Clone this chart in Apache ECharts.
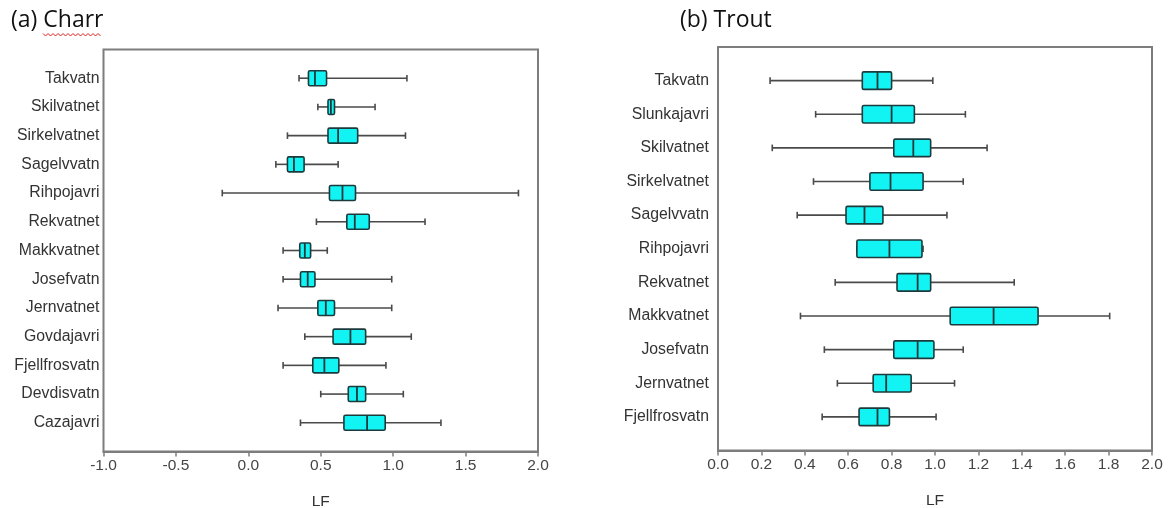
<!DOCTYPE html>
<html>
<head>
<meta charset="utf-8">
<script src="https://cdn.jsdelivr.net/npm/echarts@6/dist/echarts.min.js"></script>
<style>
html,body{margin:0;padding:0;background:#fff;}
#chart{width:1169px;height:508px;}
</style>
</head>
<body>
<div id="chart"></div>
<script>
// ---- Data ----
var charrLakes = ['Takvatn','Skilvatnet','Sirkelvatnet','Sagelvvatn','Rihpojavri','Rekvatnet','Makkvatnet','Josefvatn','Jernvatnet','Govdajavri','Fjellfrosvatn','Devdisvatn','Cazajavri'];
var charrLow  = [0.35, 0.48, 0.27, 0.19, -0.18, 0.47, 0.24, 0.24, 0.205, 0.39, 0.24, 0.50, 0.36];
var charrQ1   = [0.415,0.55, 0.55, 0.27, 0.56,  0.68, 0.355,0.36, 0.48,  0.585,0.445,0.69, 0.66];
var charrMed  = [0.46, 0.57, 0.62, 0.315,0.65,  0.735,0.39, 0.41, 0.535, 0.705,0.525,0.75, 0.82];
var charrQ3   = [0.54, 0.595,0.755,0.385,0.74,  0.835,0.43, 0.46, 0.595, 0.81, 0.625,0.81, 0.945];
var charrHigh = [1.095,0.875,1.085,0.62, 1.865, 1.22, 0.545,0.99, 0.99,  1.125,0.95, 1.07, 1.33];

var troutLakes = ['Takvatn','Slunkajavri','Skilvatnet','Sirkelvatnet','Sagelvvatn','Rihpojavri','Rekvatnet','Makkvatnet','Josefvatn','Jernvatnet','Fjellfrosvatn'];
var troutLow  = [0.24, 0.45, 0.25, 0.44, 0.365,0.64, 0.54, 0.38, 0.49, 0.55, 0.48];
var troutQ1   = [0.665,0.665,0.81, 0.70, 0.59, 0.64, 0.825,1.07, 0.81, 0.715,0.65];
var troutMed  = [0.735,0.80, 0.90, 0.795,0.675,0.79, 0.92, 1.27, 0.92, 0.775,0.735];
var troutQ3   = [0.80, 0.905,0.98, 0.945,0.76, 0.94, 0.98, 1.475,0.995,0.89, 0.79];
var troutHigh = [0.99, 1.14, 1.24, 1.13, 1.055,0.945,1.365,1.805,1.13, 1.09, 1.005];

var charrTicks = [-1.0,-0.5,0.0,0.5,1.0,1.5,2.0];
var troutTicks = [0.0,0.2,0.4,0.6,0.8,1.0,1.2,1.4,1.6,1.8,2.0];

// ---- build ----
function rows(names, lo, q1, md, q3, hi){
  return names.map(function(n,i){ return [n, lo[i], q1[i], md[i], q3[i], hi[i]]; });
}
function padCats(names){ return [''].concat(names).concat(['']); }

function makeRender(boxH){
  return function(params, api){
    var c = api.value(0);
    var pLo = api.coord([api.value(1), c]);
    var pQ1 = api.coord([api.value(2), c]);
    var pMd = api.coord([api.value(3), c]);
    var pQ3 = api.coord([api.value(4), c]);
    var pHi = api.coord([api.value(5), c]);
    var y = pMd[1];
    var half = boxH/2, cap = 3.3;
    var wStyle = {stroke:'#4a4a4a', lineWidth:1.6};
    var bStyle = {stroke:'#1c3a3c', lineWidth:1.6, fill:'#12f4f4'};
    return {
      type:'group',
      children:[
        {type:'line', shape:{x1:pLo[0],y1:y,x2:pQ1[0],y2:y}, style:wStyle},
        {type:'line', shape:{x1:pQ3[0],y1:y,x2:pHi[0],y2:y}, style:wStyle},
        {type:'line', shape:{x1:pLo[0],y1:y-cap,x2:pLo[0],y2:y+cap}, style:wStyle},
        {type:'line', shape:{x1:pHi[0],y1:y-cap,x2:pHi[0],y2:y+cap}, style:wStyle},
        {type:'rect', shape:{x:pQ1[0],y:y-half,width:pQ3[0]-pQ1[0],height:boxH,r:1.5}, style:bStyle},
        {type:'line', shape:{x1:pMd[0],y1:y-half,x2:pMd[0],y2:y+half}, style:{stroke:'#1c3a3c', lineWidth:1.8}}
      ]
    };
  };
}

var frameColor = '#7d7d7d';
function xAxisCfg(idx, min, max, interval){
  return {
    type:'value', gridIndex:idx, min:min, max:max, interval:interval,
    name:'LF', nameLocation:'middle', nameGap:42,
    nameTextStyle:{fontFamily:'Liberation Sans', fontSize:15.5, color:'#333'},
    axisLine:{show:true, lineStyle:{color:frameColor, width:2}},
    axisTick:{show:true, inside:false, length:5, lineStyle:{color:frameColor, width:1.5}},
    axisLabel:{fontFamily:'Liberation Sans', fontSize:15.5, color:'#444', margin:6,
      formatter:function(v){ return v.toFixed(1); }},
    splitLine:{show:false}
  };
}
function yAxisCfg(idx, cats, margin){
  return {
    type:'category', gridIndex:idx, data:cats, inverse:true, boundaryGap:false,
    axisLine:{show:false}, axisTick:{show:false}, splitLine:{show:false},
    axisLabel:{interval:0, fontFamily:'Liberation Sans', fontSize:15.8, color:'#333', margin:margin}
  };
}

var chart = echarts.init(document.getElementById('chart'), null, {renderer:'canvas'});
chart.setOption({
  backgroundColor:'#ffffff',
  animation:false,
  title:[
    {text:'(a) Charr', left:6, top:4, textStyle:{fontFamily:'Open Sans', fontSize:23, fontWeight:'normal', color:'#111'}},
    {text:'(b) Trout', left:675, top:4, textStyle:{fontFamily:'Open Sans', fontSize:23, fontWeight:'normal', color:'#111'}}
  ],
  graphic:[
    {type:'polyline', shape:{points:(function(){var p=[];for(var x=43;x<=101;x+=2.5){p.push([x, (Math.round((x-43)/2.5)%2===0)?33.5:36]);}return p;})()},
     style:{stroke:'#e02020', lineWidth:1, fill:null}}
  ],
  grid:[
    {left:103.5, width:434.5, top:49.5, height:402, show:true, borderColor:frameColor, borderWidth:2, backgroundColor:'transparent', containLabel:false, outerBoundsMode:'none'},
    {left:718, width:434, top:47, height:403.5, show:true, borderColor:frameColor, borderWidth:2, backgroundColor:'transparent', containLabel:false, outerBoundsMode:'none'}
  ],
  xAxis:[ xAxisCfg(0, charrTicks[0], charrTicks[charrTicks.length-1], 0.5),
          xAxisCfg(1, troutTicks[0], troutTicks[troutTicks.length-1], 0.2) ],
  yAxis:[ yAxisCfg(0, padCats(charrLakes), 4),
          yAxisCfg(1, padCats(troutLakes), 9) ],
  series:[
    {type:'custom', xAxisIndex:0, yAxisIndex:0, renderItem:makeRender(15),
     encode:{y:0, x:[1,2,3,4,5]}, data:rows(charrLakes,charrLow,charrQ1,charrMed,charrQ3,charrHigh)},
    {type:'custom', xAxisIndex:1, yAxisIndex:1, renderItem:makeRender(17.5),
     encode:{y:0, x:[1,2,3,4,5]}, data:rows(troutLakes,troutLow,troutQ1,troutMed,troutQ3,troutHigh)}
  ]
});
</script>
</body>
</html>
